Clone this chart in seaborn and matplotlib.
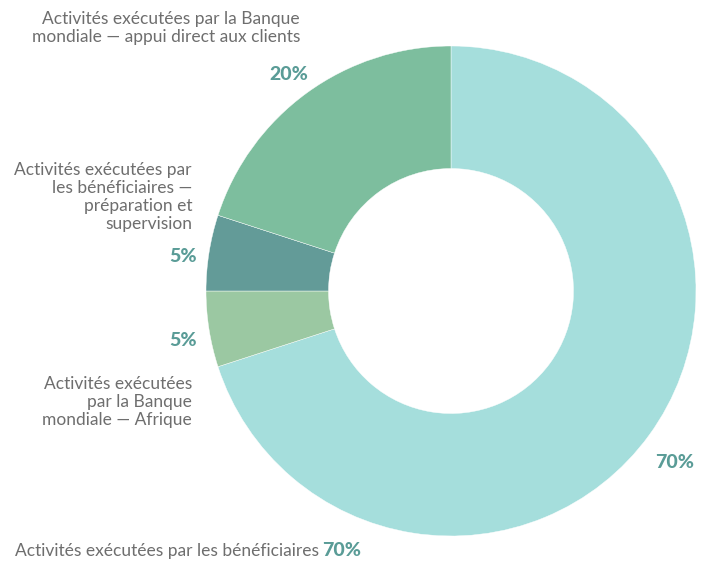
import matplotlib
matplotlib.use("Agg")
import matplotlib.pyplot as plt
import seaborn as sns

sns.set_style("white")
plt.rcParams['font.family'] = ['Lato', 'DejaVu Sans']

categories = ["Activités exécutées par les bénéficiaires",
              "Activités exécutées par la Banque mondiale — Afrique",
              "Activités exécutées par les bénéficiaires — préparation et supervision",
              "Activités exécutées par la Banque mondiale — appui direct aux clients"]
values = [70, 5, 5, 20]
pct_labels = ["70%", "5%", "5%", "20%"]
colors = ["#a5dedc", "#9bc8a2", "#639b98", "#7dbe9e"]

W, H = 709, 563
fig = plt.figure(figsize=(W / 100, H / 100), dpi=100)
ax = fig.add_axes([0, 0, 1, 1])
cx, cy, R = 451, H - 291, 245
ax.pie(values, colors=colors, startangle=90, counterclock=False,
       center=(cx, cy), radius=R,
       wedgeprops=dict(width=R * 0.5, edgecolor="white", linewidth=0.3))
ax.set_xlim(0, W)
ax.set_ylim(0, H)
ax.set_aspect("auto")
ax.axis("off")

grey = "#6e6e6e"
teal = "#5a9c97"
fs = 12.5
pfs = 14

def txt(x, y, s, **kw):
    ax.text(x, H - y, s, **kw)

txt(300, 28, "Activités exécutées par la Banque\nmondiale — appui direct aux clients",
    ha="right", va="center", color=grey, fontsize=fs, linespacing=1.15)
txt(308, 75, pct_labels[3], ha="right", va="center", color=teal, fontsize=pfs, fontweight="black")

txt(192, 197, "Activités exécutées par\nles bénéficiaires —\npréparation et\nsupervision",
    ha="right", va="center", color=grey, fontsize=fs, linespacing=1.15)
txt(197, 256, pct_labels[2], ha="right", va="center", color=teal, fontsize=pfs, fontweight="black")

txt(197, 340, pct_labels[1], ha="right", va="center", color=teal, fontsize=pfs, fontweight="black")
txt(192, 402, "Activités exécutées\npar la Banque\nmondiale — Afrique",
    ha="right", va="center", color=grey, fontsize=fs, linespacing=1.15)

txt(655, 462, pct_labels[0], ha="left", va="center", color=teal, fontsize=pfs, fontweight="black")
txt(15, 551, categories[0], ha="left", va="center", color=grey, fontsize=fs)
txt(322, 551, pct_labels[0], ha="left", va="center", color=teal, fontsize=pfs, fontweight="black")

fig.savefig("out.png", dpi=100)
